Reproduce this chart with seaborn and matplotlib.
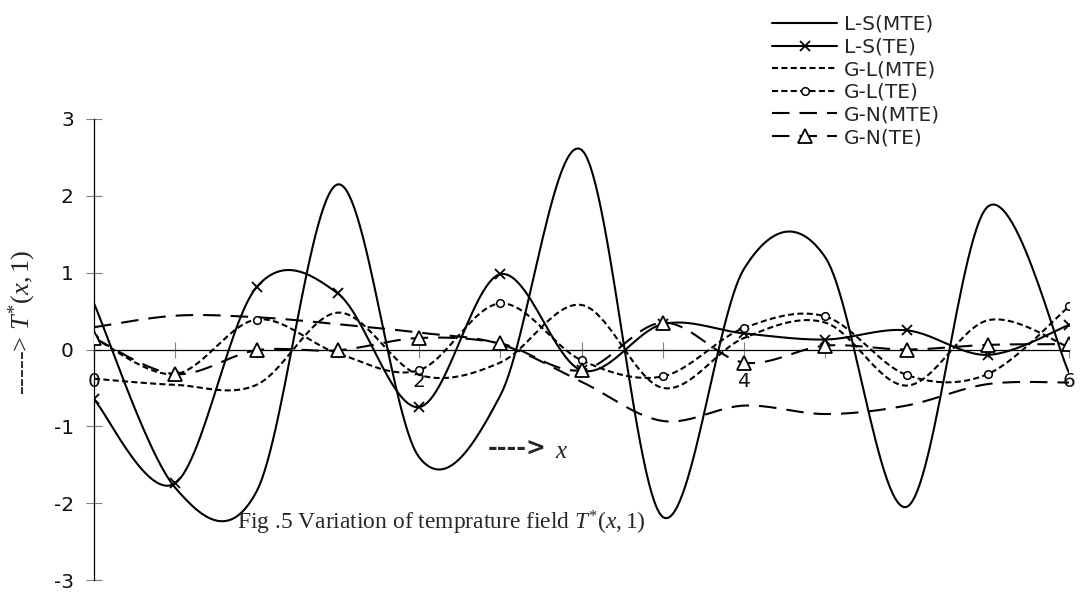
import numpy as np
import matplotlib
matplotlib.use("Agg")
import matplotlib.pyplot as plt
import seaborn as sns
from matplotlib.lines import Line2D

# ---------------- data ----------------
x_vals = [0.0, 0.5, 1.0, 1.5, 2.0, 2.5, 3.0, 3.5, 4.0, 4.5, 5.0, 5.5, 6.0]
ls_mte = [0.60, -1.80, -1.85, 2.15, -1.40, -0.60, 2.60, -2.18, 1.05, 1.20, -2.05, 1.86, -0.30]
ls_te = [-0.65, -1.74, 0.81, 0.73, -0.75, 0.98, -0.27, 0.33, 0.21, 0.13, 0.25, -0.07, 0.32]
gl_mte = [-0.38, -0.46, -0.46, 0.48, -0.33, -0.17, 0.58, -0.50, 0.15, 0.35, -0.47, 0.38, 0.03]
gl_te = [0.15, -0.32, 0.39, -0.05, -0.27, 0.60, -0.14, -0.35, 0.28, 0.43, -0.33, -0.32, 0.56]
gn_mte = [0.29, 0.44, 0.42, 0.33, 0.22, 0.07, -0.42, -0.93, -0.73, -0.84, -0.73, -0.45, -0.43]
gn_te = [0.15, -0.32, -0.01, -0.01, 0.15, 0.08, -0.27, 0.35, -0.17, 0.05, 0.00, 0.06, 0.07]
series_names = ["L-S(MTE)", "L-S(TE)", "G-L(MTE)", "G-L(TE)", "G-N(MTE)", "G-N(TE)"]
x_tick_labels = ["0", "2", "4", "6"]
y_ticks = [-3, -2, -1, 0, 1, 2, 3]


def excel_smooth(xv, yv, n=30):
    """Smoothed-line rendering (cubic Bezier through the points, like a spreadsheet 'smoothed line')."""
    p = np.column_stack([xv, yv]).astype(float)
    ext = np.vstack([p[0], p, p[-1]])
    t = np.linspace(0, 1, n)[:, None]
    out = []
    for i in range(len(p) - 1):
        p0, p3 = ext[i + 1], ext[i + 2]
        c1 = p0 + (ext[i + 2] - ext[i]) / 6.0
        c2 = p3 - (ext[i + 3] - ext[i + 1]) / 6.0
        seg = (1 - t) ** 3 * p0 + 3 * t * (1 - t) ** 2 * c1 + 3 * t ** 2 * (1 - t) * c2 + t ** 3 * p3
        out.append(seg if i == 0 else seg[1:])
    a = np.vstack(out)
    return a[:, 0], a[:, 1]


sns.set_theme(style="white")
plt.rcParams["font.family"] = ["DejaVu Sans"]
plt.rcParams["axes.unicode_minus"] = False
plt.rcParams["mathtext.fontset"] = "custom"
plt.rcParams["mathtext.rm"] = "Liberation Serif"
plt.rcParams["mathtext.it"] = "Liberation Serif:italic"

fig = plt.figure(figsize=(10.8, 5.95), dpi=100)
ax = fig.add_axes([94 / 1080, 1 - 580 / 595, (1069 - 94) / 1080, (580 - 119) / 595])
ax.set_facecolor("white")

LW = 1.5
short_dash = (0, (2.9, 1.6))
long_dash = (0, (8.4, 4.8))

styles = [
    dict(data=ls_mte, ls="-", marker=None),
    dict(data=ls_te, ls="-", marker="x"),
    dict(data=gl_mte, ls=short_dash, marker=None),
    dict(data=gl_te, ls=short_dash, marker="o"),
    dict(data=gn_mte, ls=long_dash, marker=None),
    dict(data=gn_te, ls=long_dash, marker="^"),
]
marker_kw = {
    "x": dict(markersize=7, markerfacecolor="black", markeredgecolor="black", markeredgewidth=1.3),
    "o": dict(markersize=5.5, markerfacecolor="white", markeredgecolor="black", markeredgewidth=1.1),
    "^": dict(markersize=9.5, markerfacecolor="white", markeredgecolor="black", markeredgewidth=1.3),
}

handles = []
for i, st in enumerate(styles):
    sx, sy = excel_smooth(x_vals, st["data"])
    sns.lineplot(x=sx, y=sy, ax=ax, color="black", linewidth=LW, linestyle=st["ls"],
                 sort=False, estimator=None, legend=False, zorder=3 + i)
    if st["marker"]:
        sns.lineplot(x=x_vals, y=st["data"], ax=ax, color="black", linestyle="none",
                     marker=st["marker"], sort=False, estimator=None, legend=False,
                     zorder=10 + i, **marker_kw[st["marker"]])
        handles.append(Line2D([], [], color="black", lw=LW, linestyle=st["ls"],
                              marker=st["marker"], **marker_kw[st["marker"]]))
    else:
        handles.append(Line2D([], [], color="black", lw=LW, linestyle=st["ls"]))

ax.set_xlim(0, 6)
ax.set_ylim(-3, 3)
ax.set_xlabel("")
ax.set_ylabel("")

for side in ["top", "right"]:
    ax.spines[side].set_visible(False)
ax.spines["left"].set_position(("data", 0))
ax.spines["bottom"].set_position(("data", 0))
for side in ["left", "bottom"]:
    ax.spines[side].set_color("black")
    ax.spines[side].set_linewidth(0.9)
    ax.spines[side].set_zorder(2)

xt = np.arange(0, 6.01, 0.5)
ax.set_xticks(xt)
ax.set_xticklabels([x_tick_labels[int(round(v)) // 2]
                    if (abs(v - round(v)) < 1e-9 and int(round(v)) % 2 == 0) else "" for v in xt])
ax.set_yticks(y_ticks)
ax.set_yticklabels([str(v) for v in y_ticks])
ax.tick_params(axis="x", direction="inout", length=11, width=0.8, color="#808080",
               labelsize=14.5, pad=10.5, labelcolor="#111111", bottom=True)
ax.tick_params(axis="y", direction="inout", length=12, width=0.8, color="#808080",
               labelsize=14.5, pad=8.5, labelcolor="#111111", left=True)

# legend
fig.legend(handles, series_names, loc="upper left", bbox_to_anchor=(772 / 1080, 1 - 15 / 595),
           frameon=False, fontsize=14.5, handlelength=3.25, handletextpad=0.34,
           labelspacing=0.18, borderpad=0, borderaxespad=0, numpoints=1)

# y label
fig.text(22 / 1080, 1 - 322 / 595, r"-----> $T^{*}(x,1)$", rotation=90, ha="center", va="center",
         fontsize=19, family=["Liberation Serif", "DejaVu Serif"])

# x arrow annotation
fig.text(488 / 1080, 1 - 449 / 595, "---->", ha="left", va="center", fontsize=17,
         fontweight="bold", family=["DejaVu Sans"])
fig.text(555 / 1080, 1 - 451 / 595, r"$x$", ha="left", va="center", fontsize=18)

# caption
fig.text(237 / 1080, 1 - 523 / 595, r"Fig .5 Variation of temprature field $T^{*}(x,1)$",
         ha="left", va="center", fontsize=16.9, family=["Liberation Serif", "DejaVu Serif"])

fig.savefig("out.png", dpi=100, facecolor="white")
